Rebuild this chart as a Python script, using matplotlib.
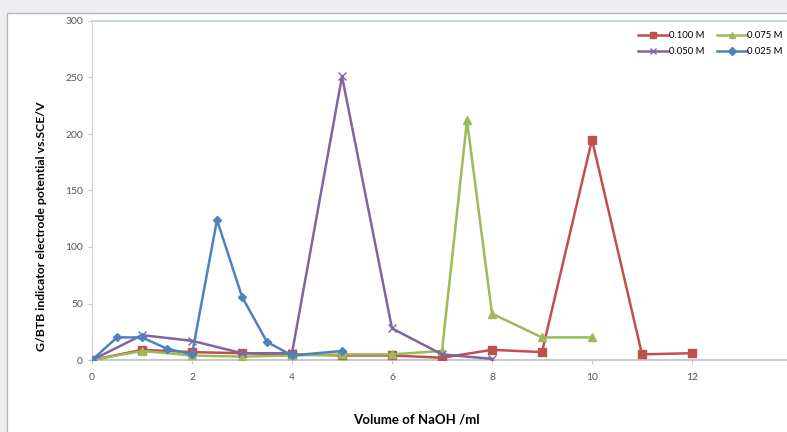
import matplotlib.pyplot as plt
from matplotlib.patches import Rectangle

# potential readings (mV) against volume of NaOH added (ml)
vol_100 = [0, 1, 2, 3, 4, 5, 6, 7, 8, 9, 10, 11, 12]
pot_100 = [0, 9, 7, 6, 5, 4, 4, 2, 9, 7, 195, 5, 6]

vol_075 = [0, 1, 2, 3, 4, 5, 6, 7, 7.5, 8, 9, 10]
pot_075 = [0, 8, 4, 3, 4, 5, 5, 8, 212, 41, 20, 20]

vol_050 = [0, 1, 2, 3, 4, 5, 6, 7, 8]
pot_050 = [0, 22, 17, 6, 6, 251, 28, 5, 1]

vol_025 = [0, 0.5, 1, 1.5, 2, 2.5, 3, 3.5, 4, 5]
pot_025 = [0, 20, 20, 10, 5, 124, 56, 16, 4, 8]

RED = '#c0504d'
GREEN = '#9bbb59'
PURPLE = '#8064a2'
BLUE = '#4f81bd'

plt.rcParams['font.family'] = ['Lato', 'DejaVu Sans']

fig = plt.figure(figsize=(7.87, 4.32), dpi=100)
fig.patch.set_facecolor('#eceef1')
# white chart panel sitting on the grey page
fig.patches.append(Rectangle((7 / 787, -0.05), 1.0, 1 - 13 / 432 + 0.05,
                             transform=fig.transFigure, facecolor='white',
                             edgecolor='#b8b8b8', linewidth=1.0, zorder=-5))

ax = fig.add_axes([92 / 787, 1 - 360 / 432, 700 / 787, 339 / 432])
ax.set_facecolor('white')

l_100, = ax.plot(vol_100, pot_100, color=RED, lw=1.8, marker='s', ms=6,
                 label='0.100 M', zorder=3)
l_075, = ax.plot(vol_075, pot_075, color=GREEN, lw=1.8, marker='^', ms=6,
                 label='0.075 M', zorder=3)
l_050, = ax.plot(vol_050, pot_050, color=PURPLE, lw=1.8, marker='x', ms=6,
                 mew=1.0, label='0.050 M', zorder=4)
l_025, = ax.plot(vol_025, pot_025, color=BLUE, lw=1.8, marker='D', ms=4.5,
                 label='0.025 M', zorder=5)

ax.set_xlim(0, 14)
ax.set_ylim(0, 300)
ax.set_xticks(range(0, 15, 2))
ax.set_yticks(range(0, 301, 50))

ax.spines['right'].set_visible(False)
ax.spines['top'].set_color('#c6d9ec')
ax.spines['top'].set_linewidth(1.5)
ax.spines['left'].set_color('#d0d0d0')
ax.spines['bottom'].set_color('#c8c8c8')
ax.spines['bottom'].set_linewidth(1.5)
ax.tick_params(axis='both', labelsize=7.5, labelcolor='#555555', color='#c8c8c8',
               length=3, width=0.8)
ax.tick_params(axis='x', pad=6)

ax.set_xlabel('Volume of NaOH /ml', fontsize=9.5, fontweight='bold')
ax.xaxis.set_label_coords(0.464, -0.158)
ax.set_ylabel('G/BTB indicator electrode potential vs.SCE/V', fontsize=8.8,
              fontweight='bold')
ax.yaxis.set_label_coords(-0.064, 0.395)

ax.legend([l_100, l_050, l_075, l_025], ['0.100 M', '0.050 M', '0.075 M', '0.025 M'],
          ncol=2, loc='upper right', bbox_to_anchor=(0.999, 0.995), fontsize=6.8,
          frameon=False, handlelength=3.2, columnspacing=1.3, labelspacing=0.75,
          handletextpad=0.05, markerscale=0.8)

fig.savefig('out.png', dpi=100)
